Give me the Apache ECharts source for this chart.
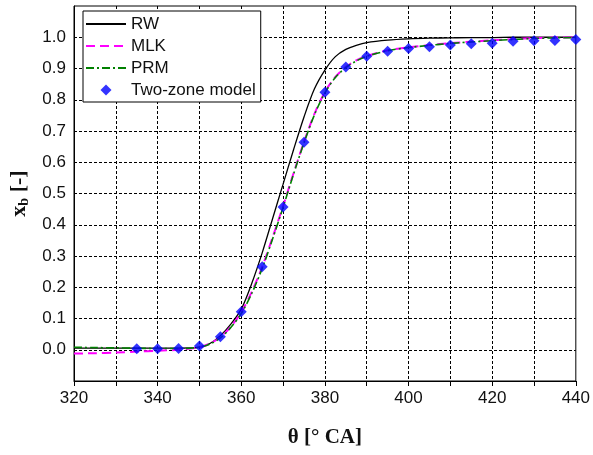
<!DOCTYPE html>
<html>
<head>
<meta charset="utf-8">
<script src="https://cdn.jsdelivr.net/npm/echarts@6/dist/echarts.min.js"></script>
<style>html,body{margin:0;padding:0;background:#fff}#c{width:593px;height:455px}</style>
</head>
<body>
<div id="c"></div>
<script>
const thetaLine = [320,325,330,335,340,345,350,352.5,355,357.5,360,362.5,365,367.5,370,372.5,375,377.5,380,382.5,385,387.5,390,395,400,405,410,415,420,425,430,435,440];
const rwValues  = [0.005,0.005,0.005,0.005,0.005,0.005,0.008,0.02,0.045,0.082,0.13,0.212,0.31,0.42,0.53,0.64,0.745,0.835,0.895,0.938,0.961,0.974,0.983,0.991,0.995,0.997,0.998,0.999,0.999,1.0,1.0,1.0,1.0];
const mlkValues = [-0.012,-0.011,-0.009,-0.006,-0.003,0.0,0.008,0.02,0.04,0.074,0.12,0.185,0.265,0.36,0.46,0.565,0.665,0.755,0.825,0.873,0.905,0.926,0.94,0.958,0.968,0.975,0.981,0.986,0.99,0.994,0.997,0.999,1.0];
const prmValues = [0.008,0.007,0.006,0.005,0.004,0.004,0.008,0.018,0.038,0.071,0.116,0.18,0.26,0.355,0.456,0.562,0.662,0.752,0.822,0.871,0.903,0.924,0.939,0.957,0.967,0.974,0.98,0.985,0.989,0.993,0.996,0.998,0.999];
const thetaPts  = [335,340,345,350,355,360,365,370,375,380,385,390,395,400,405,410,415,420,425,430,435,440];
const twoZone   = [0.003,0.003,0.004,0.012,0.042,0.122,0.266,0.457,0.664,0.824,0.905,0.939,0.955,0.964,0.970,0.975,0.979,0.981,0.987,0.989,0.990,0.993];

const pair = (xs, ys) => xs.map((x, i) => [x, ys[i]]);
const sans = 'Liberation Sans';
const serif = 'Liberation Serif';
const diamondPath = 'path://M5,0L10,5L5,10L0,5Z';

const chart = echarts.init(document.getElementById('c'), null, {renderer: 'canvas'});
chart.setOption({
  animation: false,
  backgroundColor: '#fff',
  grid: {left: 73, right: 16, top: 6, bottom: 74, show: true, borderColor: '#000', borderWidth: 1, backgroundColor: 'transparent'},
  legend: {
    orient: 'vertical', left: 83, top: 11,
    backgroundColor: '#fff', borderColor: '#000', borderWidth: 1, borderRadius: 0,
    padding: [3, 5, 2, 2],
    itemWidth: 40, itemHeight: 11, itemGap: 2,
    symbolKeepAspect: true,
    textStyle: {fontFamily: sans, fontSize: 17, color: '#111', lineHeight: 20},
    data: [
      {name: 'RW', itemStyle: {opacity: 0}},
      {name: 'MLK', itemStyle: {opacity: 0}},
      {name: 'PRM', itemStyle: {opacity: 0}},
      {name: 'Two-zone model', icon: diamondPath}
    ]
  },
  xAxis: {
    type: 'value', min: 320, max: 440, interval: 10,
    name: 'θ [° CA]', nameLocation: 'middle', nameGap: 46,
    nameTextStyle: {fontFamily: serif, fontWeight: 'bold', fontSize: 21, color: '#111'},
    axisLine: {show: true, onZero: false, lineStyle: {color: '#000', width: 1}},
    axisTick: {show: true, length: 5, lineStyle: {color: '#000'}},
    axisLabel: {fontFamily: sans, fontSize: 17, color: '#111', margin: 9,
      formatter: v => (Math.round(v) % 20 === 0 ? String(Math.round(v)) : '')},
    splitLine: {show: true, showMinLine: false, showMaxLine: false, lineStyle: {color: '#000', type: [3, 2], width: 1}}
  },
  yAxis: {
    type: 'value', min: -0.1, max: 1.1, interval: 0.1,
    name: '{m|x}{s|b}{m| [-]}', nameLocation: 'middle', nameGap: 43, nameRotate: 90,
    nameTextStyle: {fontFamily: serif, fontWeight: 'bold', fontSize: 22, color: '#111',
      rich: {
        m: {fontFamily: serif, fontWeight: 'bold', fontSize: 22, color: '#111'},
        s: {fontFamily: serif, fontWeight: 'bold', fontSize: 14, color: '#111', verticalAlign: 'bottom', padding: [10, 0, 0, 0]}
      }},
    axisLine: {show: true, onZero: false, lineStyle: {color: '#000', width: 1}},
    axisTick: {show: false},
    axisLabel: {fontFamily: sans, fontSize: 17, color: '#111', margin: 8,
      formatter: v => (v < -0.05 || v > 1.05 ? '' : v.toFixed(1))},
    splitLine: {show: true, showMinLine: false, showMaxLine: false, lineStyle: {color: '#000', type: [3, 2], width: 1}}
  },
  series: [
    {name: 'RW', type: 'line', data: pair(thetaLine, rwValues), smooth: 0.3, symbol: 'none',
     lineStyle: {color: '#000', width: 1.3, type: 'solid'}, itemStyle: {color: '#000'}, z: 3},
    {name: 'MLK', type: 'line', data: pair(thetaLine, mlkValues), smooth: 0.3, symbol: 'none',
     lineStyle: {color: '#ff00ff', width: 2, type: [9, 5]}, itemStyle: {color: '#ff00ff'}, z: 4},
    {name: 'PRM', type: 'line', data: pair(thetaLine, prmValues), smooth: 0.3, symbol: 'none',
     lineStyle: {color: '#008000', width: 1.6, type: [8, 3, 2, 3]}, itemStyle: {color: '#008000'}, z: 5},
    {name: 'Two-zone model', type: 'scatter', data: pair(thetaPts, twoZone), symbol: 'diamond', symbolSize: 11,
     itemStyle: {color: '#0000ff'}, z: 6}
  ]
});
</script>
</body>
</html>
